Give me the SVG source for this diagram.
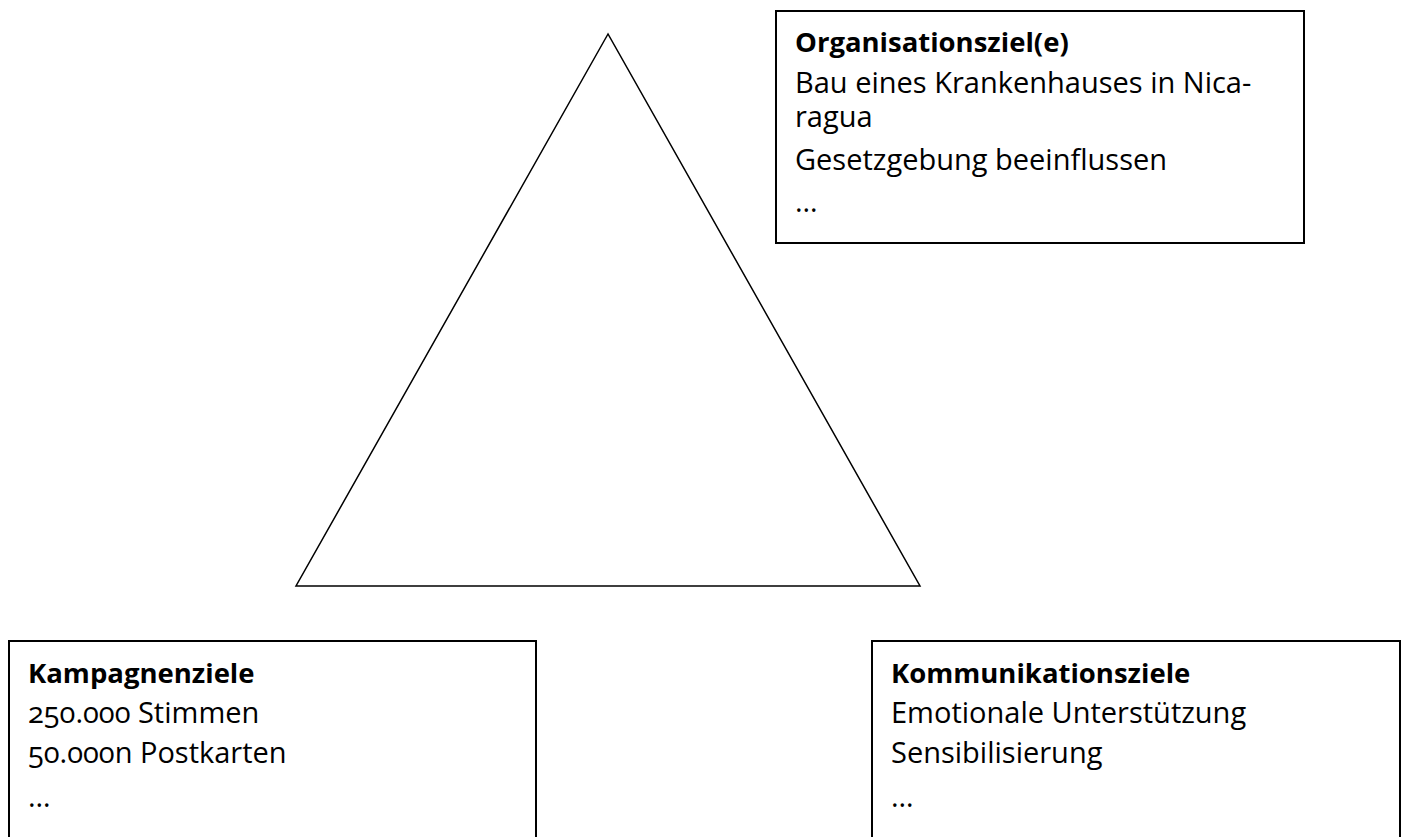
<svg xmlns="http://www.w3.org/2000/svg" width="1408" height="837" viewBox="0 0 1408 837">
<style>
.box{fill:#fff;stroke:#000;stroke-width:2}
.tri{fill:none;stroke:#000;stroke-width:1.5;stroke-linejoin:miter}
text{font-family:"Open Sans","Noto Sans","DejaVu Sans",sans-serif;font-size:29px;fill:#000;font-variant-numeric:oldstyle-nums}
.h{font-weight:bold;font-size:27.5px}
</style>
<rect width="1408" height="837" fill="#fff"/>
<g id="triangle">
<polygon class="tri" points="608,34 296,586 920,586"/>
</g>
<g id="organisationsziele">
<rect class="box" x="776" y="11" width="528" height="232"/>
<text class="h" x="795" y="52">Organisationsziel(e)</text>
<text x="795" y="93">Bau eines Krankenhauses in Nica-<tspan x="795" y="127">ragua</tspan></text>
<text x="795" y="170">Gesetzgebung beeinflussen</text>
<text x="795" y="212">…</text>
</g>
<g id="kampagnenziele">
<rect class="box" x="9" y="641" width="527" height="210"/>
<text class="h" x="28" y="683">Kampagnenziele</text>
<text x="28" y="723">250.000 Stimmen</text>
<text x="28" y="763">50.000n Postkarten</text>
<text x="28" y="807">…</text>
</g>
<g id="kommunikationsziele">
<rect class="box" x="872" y="641" width="528" height="210"/>
<text class="h" x="891" y="683">Kommunikationsziele</text>
<text x="891" y="723">Emotionale Unterstützung</text>
<text x="891" y="763">Sensibilisierung</text>
<text x="891" y="807">…</text>
</g>
<g id="connectors"></g>
</svg>
